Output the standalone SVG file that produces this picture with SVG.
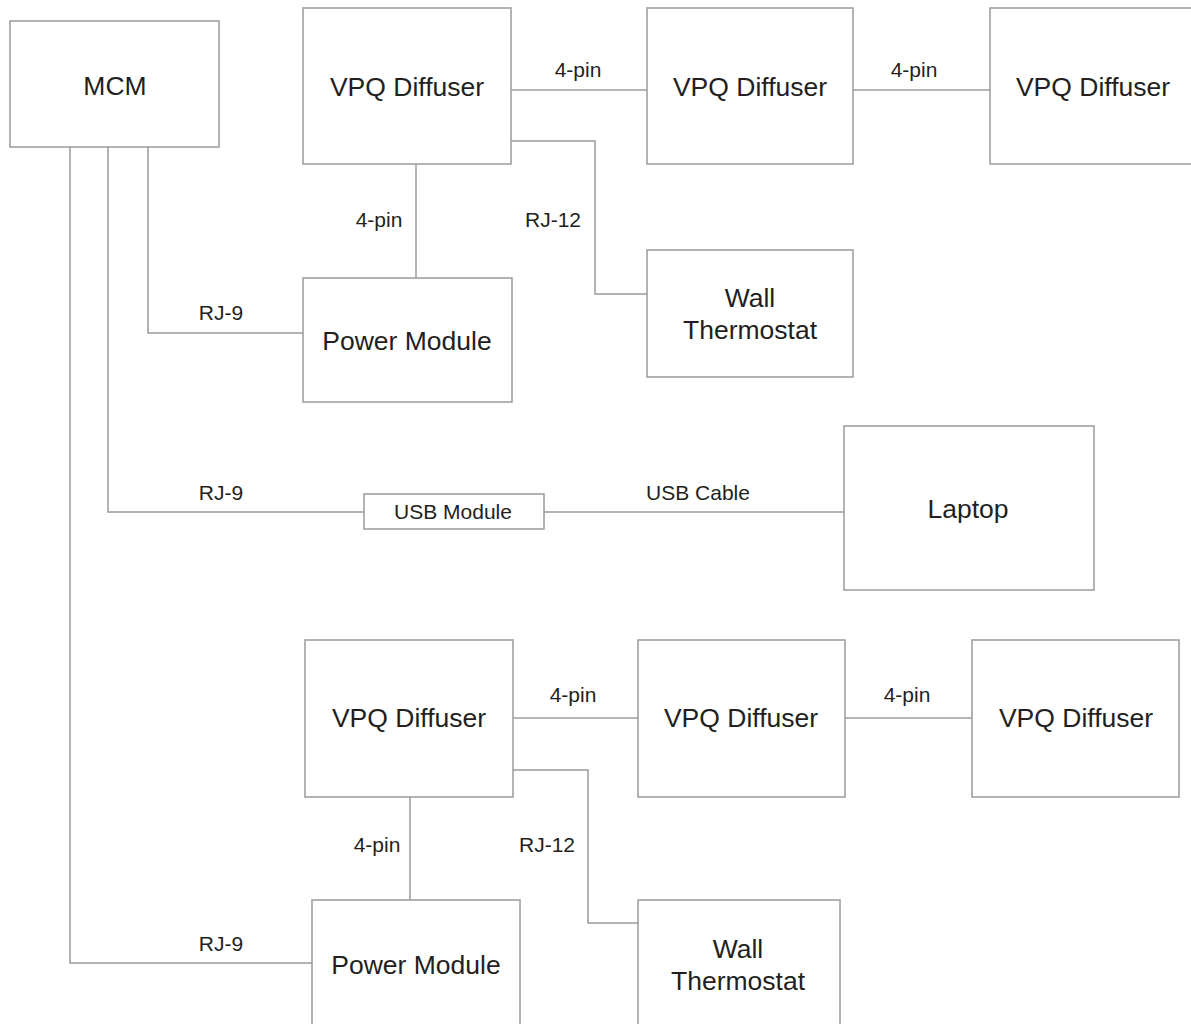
<svg xmlns="http://www.w3.org/2000/svg" width="1191" height="1024" viewBox="0 0 1191 1024">
<style>
.box{fill:#fff;stroke:#9b9b9b;stroke-width:1.5}
.wire{fill:none;stroke:#9b9b9b;stroke-width:1.5}
.t{font-family:"Liberation Sans",Arial,sans-serif;font-size:26.5px;fill:#231f20;text-anchor:middle}
.l{font-family:"Liberation Sans",Arial,sans-serif;font-size:21px;fill:#231f20;text-anchor:middle}
</style>
<rect width="1191" height="1024" fill="#fff"/>
<g id="connectors">
<path class="wire" d="M511 90H647"/>
<path class="wire" d="M853 90H990"/>
<path class="wire" d="M416 164V278"/>
<path class="wire" d="M511 141H595V294H647"/>
<path class="wire" d="M148 147V333H303"/>
<path class="wire" d="M108 147V512H364"/>
<path class="wire" d="M544 512H844"/>
<path class="wire" d="M70 147V963H312"/>
<path class="wire" d="M513 718H638"/>
<path class="wire" d="M845 718H972"/>
<path class="wire" d="M410 797V900"/>
<path class="wire" d="M513 770H588V923H638"/>
<text class="l" x="578" y="77">4-pin</text>
<text class="l" x="914" y="77">4-pin</text>
<text class="l" x="379" y="227">4-pin</text>
<text class="l" x="553" y="227">RJ-12</text>
<text class="l" x="221" y="320">RJ-9</text>
<text class="l" x="221" y="500">RJ-9</text>
<text class="l" x="698" y="500">USB Cable</text>
<text class="l" x="573" y="702">4-pin</text>
<text class="l" x="907" y="702">4-pin</text>
<text class="l" x="377" y="852">4-pin</text>
<text class="l" x="547" y="852">RJ-12</text>
<text class="l" x="221" y="951">RJ-9</text>
</g>
<g id="mcm"><rect class="box" x="10" y="21" width="209" height="126"/><text class="t" x="115" y="95">MCM</text></g>
<g id="vpq-top-1"><rect class="box" x="303" y="8" width="208" height="156"/><text class="t" x="407" y="96">VPQ Diffuser</text></g>
<g id="vpq-top-2"><rect class="box" x="647" y="8" width="206" height="156"/><text class="t" x="750" y="96">VPQ Diffuser</text></g>
<g id="vpq-top-3"><rect class="box" x="990" y="8" width="210" height="156"/><text class="t" x="1093" y="96">VPQ Diffuser</text></g>
<g id="thermostat-top"><rect class="box" x="647" y="250" width="206" height="127"/><text class="t" x="750" y="307">Wall</text><text class="t" x="750" y="339">Thermostat</text></g>
<g id="power-top"><rect class="box" x="303" y="278" width="209" height="124"/><text class="t" x="407" y="350">Power Module</text></g>
<g id="usb-module"><rect class="box" x="364" y="494" width="180" height="35"/><text class="l" x="453" y="519">USB Module</text></g>
<g id="laptop"><rect class="box" x="844" y="426" width="250" height="164"/><text class="t" x="968" y="518">Laptop</text></g>
<g id="vpq-bot-1"><rect class="box" x="305" y="640" width="208" height="157"/><text class="t" x="409" y="727">VPQ Diffuser</text></g>
<g id="vpq-bot-2"><rect class="box" x="638" y="640" width="207" height="157"/><text class="t" x="741" y="727">VPQ Diffuser</text></g>
<g id="vpq-bot-3"><rect class="box" x="972" y="640" width="207" height="157"/><text class="t" x="1076" y="727">VPQ Diffuser</text></g>
<g id="power-bot"><rect class="box" x="312" y="900" width="208" height="140"/><text class="t" x="416" y="974">Power Module</text></g>
<g id="thermostat-bot"><rect class="box" x="638" y="900" width="202" height="140"/><text class="t" x="738" y="958">Wall</text><text class="t" x="738" y="990">Thermostat</text></g>
</svg>
